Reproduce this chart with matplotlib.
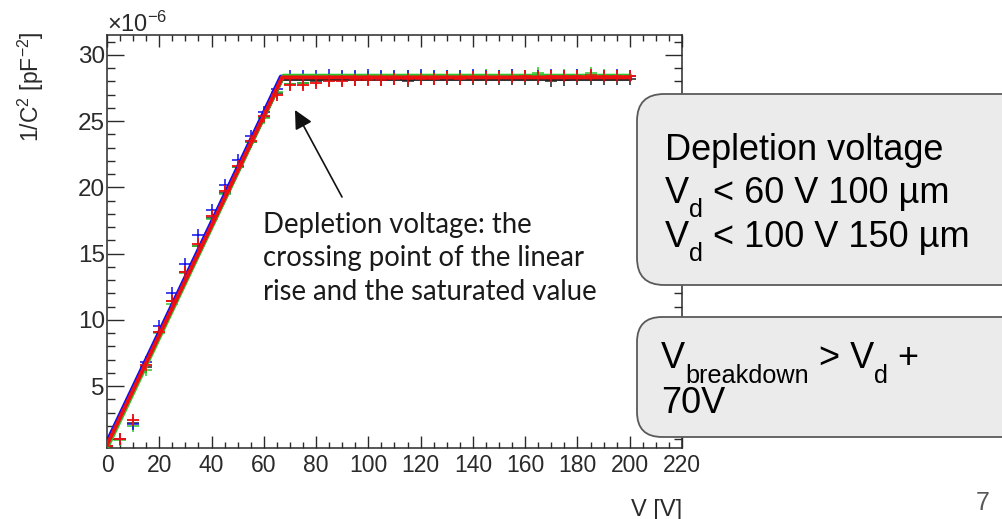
import matplotlib
matplotlib.use("Agg")
import matplotlib.pyplot as plt
from matplotlib.patches import FancyBboxPatch, FancyArrowPatch
from matplotlib.ticker import MultipleLocator

plt.rcParams['font.family'] = ['Liberation Sans', 'DejaVu Sans']
plt.rcParams['mathtext.fontset'] = 'custom'
plt.rcParams['mathtext.rm'] = 'Liberation Sans'
plt.rcParams['mathtext.it'] = 'Liberation Sans:italic'
plt.rcParams['mathtext.bf'] = 'Liberation Sans:bold'

# ---------------- data ----------------
voltage = [0, 5, 10, 15, 20, 25, 30, 35, 40, 45, 50, 55, 60, 65, 70,
           75, 80, 85, 90, 95, 100, 105, 110, 115, 120, 125, 130, 135, 140,
           145, 150, 155, 160, 165, 170, 175, 180, 185, 190, 195, 200]

inv_c2_blue = [0.5, 1.0, 2.1, 6.8, 9.5, 12.0, 14.2, 16.4, 18.3, 20.2, 22.1, 23.9, 25.7, 27.4, 28.4,
               28.4, 28.4, 28.5, 28.4, 28.4, 28.5, 28.4, 28.4, 28.4, 28.5, 28.4, 28.4, 28.4, 28.5,
               28.4, 28.4, 28.5, 28.4, 28.4, 28.5, 28.4, 28.5, 28.5, 28.4, 28.5, 28.4]
inv_c2_green = [0.4, 0.9, 2.0, 6.2, 9.0, 11.2, 13.5, 15.6, 17.6, 19.5, 21.5, 23.4, 25.2, 27.2, 27.8,
                27.9, 28.1, 28.2, 28.3, 28.3, 28.3, 28.3, 28.3, 28.4, 28.4, 28.3, 28.4, 28.4, 28.4,
                28.5, 28.4, 28.5, 28.4, 28.6, 28.4, 28.5, 28.5, 28.6, 28.5, 28.4, 28.4]
inv_c2_red = [0.5, 1.0, 2.4, 6.6, 9.1, 11.4, 13.6, 15.7, 17.8, 19.7, 21.6, 23.5, 25.4, 27.0, 27.7,
              27.7, 27.9, 28.0, 28.0, 28.1, 28.1, 28.1, 28.2, 28.2, 28.2, 28.2, 28.3, 28.2, 28.3,
              28.3, 28.3, 28.3, 28.4, 28.3, 28.4, 28.4, 28.4, 28.5, 28.4, 28.4, 28.4]
inv_c2_black = [0.5, 1.0, 2.2, 6.4, 9.1, 11.4, 13.6, 15.6, 17.7, 19.6, 21.5, 23.4, 25.3, 27.1, 27.8,
                27.9, 28.0, 28.1, 28.1, 28.1, 28.2, 28.1, 28.2, 28.0, 28.2, 28.2, 28.2, 28.2, 28.2,
                28.2, 28.2, 28.2, 28.2, 28.2, 28.0, 28.1, 28.2, 28.2, 28.2, 28.2, 28.2]

# fitted lines: (V, 1/C^2) at start, kink (depletion voltage) and end
fit_black_v = [0, 67.0, 200]; fit_black_y = [0.5, 28.18, 28.18]
fit_blue_v = [0, 66.5, 200];  fit_blue_y = [0.8, 28.36, 28.36]
fit_green_v = [0, 67.5, 200]; fit_green_y = [0.3, 28.43, 28.43]
fit_red_v = [0, 67.0, 200];   fit_red_y = [0.55, 28.3, 28.3]

x_ticks = [0, 20, 40, 60, 80, 100, 120, 140, 160, 180, 200, 220]
y_ticks = [5, 10, 15, 20, 25, 30]

# ---------------- figure ----------------
W, H = 1002, 519
fig = plt.figure(figsize=(W / 100, H / 100), dpi=100)
fig.patch.set_facecolor('white')

ax = fig.add_axes([107 / W, (H - 448) / H, 575 / W, 413 / H])
ax.set_xlim(0, 220)
ax.set_ylim(0.32, 31.5)

blue, green, red, black = '#1010ee', '#2ec42e', '#ee1010', '#222222'

mk = dict(marker='+', ls='none', ms=8, mew=1.1, zorder=2)
ax.plot(voltage, inv_c2_black, color=black, **mk)
ax.plot(voltage, inv_c2_green, color=green, **mk)
ax.plot(voltage, inv_c2_blue, color=blue, **mk)
ax.plot(voltage, inv_c2_red, color=red, **mk)

ax.plot(fit_black_v, fit_black_y, color=black, lw=2.8, zorder=3)
ax.plot(fit_blue_v, fit_blue_y, color=blue, lw=2.8, zorder=3)
ax.plot(fit_green_v, fit_green_y, color=green, lw=2.8, zorder=3)
ax.plot(fit_red_v, fit_red_y, color=red, lw=2.8, zorder=3)

# markers that sit away from the lines stay visible on top
ax.plot(voltage, inv_c2_red, color=red, alpha=0.85, **dict(mk, zorder=4))

tick_col = '#2a2a2a'
ax.set_xticks(x_ticks)
ax.set_yticks(y_ticks)
ax.xaxis.set_minor_locator(MultipleLocator(5))
ax.yaxis.set_minor_locator(MultipleLocator(1))
ax.tick_params(axis='x', which='major', direction='in', length=8.5, width=1,
               top=True, bottom=True, labelsize=16.5, pad=4, colors=tick_col)
ax.tick_params(axis='x', which='minor', direction='in', length=4.3, width=1,
               top=True, bottom=True, colors=tick_col)
ax.tick_params(axis='y', which='major', direction='in', length=12, width=1,
               left=True, right=True, labelsize=17.5, pad=1.5, colors=tick_col)
ax.tick_params(axis='y', which='minor', direction='in', length=5.5, width=1,
               left=True, right=True, colors=tick_col)
for s in ax.spines.values():
    s.set_color(tick_col)
    s.set_linewidth(1.1)

# axis titles and exponent
fig.text(31 / W, 1 - 31 / H, r'1/C$^{2}$ [pF$^{-2}$]', rotation=90,
         ha='center', va='top', fontsize=16.5, color=tick_col)
fig.text(682 / W, 1 - 516 / H, 'V [V]', ha='right', va='baseline',
         fontsize=17, color=tick_col)
fig.text(107 / W, 1 - 32 / H, r'$\times$10$^{-6}$', ha='left', va='baseline',
         fontsize=17, color=tick_col)

# ---------------- overlay (pixel coordinates) ----------------
ov = fig.add_axes([0, 0, 1, 1], zorder=5)
ov.set_xlim(0, W)
ov.set_ylim(H, 0)
ov.axis('off')
ov.patch.set_visible(False)

renderer = fig.canvas.get_renderer()


def rich_line(x, y, pieces, size, sub_scale=0.7, sub_drop=14, color='black'):
    """pieces: list of (text, is_subscript)"""
    for txt, is_sub in pieces:
        fs = size * sub_scale if is_sub else size
        yy = y + sub_drop if is_sub else y
        t = ov.text(x, yy, txt, ha='left', va='baseline', fontsize=fs, color=color)
        bb = t.get_window_extent(renderer=renderer)
        x += bb.width


# annotation text
note_font = ['Lato', 'DejaVu Sans']
for txt, yb in [('Depletion voltage: the', 233),
                ('crossing point of the linear', 266),
                ('rise and the saturated value', 300)]:
    ov.text(263, yb, txt, ha='left', va='baseline', fontsize=19.8,
            family=note_font, color='#1a1a1a')

ov.add_patch(FancyArrowPatch((342, 197), (295, 110),
                             arrowstyle='-|>,head_length=0.7,head_width=0.35',
                             mutation_scale=16, color='#111111', lw=1.2,
                             shrinkA=0, shrinkB=0))

# boxes
box_face, box_edge = '#ebebeb', '#5a5a5a'
ov.add_patch(FancyBboxPatch((637, 94), 420, 191,
                            boxstyle='round,pad=0,rounding_size=27',
                            fc=box_face, ec=box_edge, lw=1.3))
ov.add_patch(FancyBboxPatch((637, 317), 420, 120,
                            boxstyle='round,pad=0,rounding_size=25',
                            fc=box_face, ec=box_edge, lw=1.3))

bfs = 26
ov.text(665, 160, 'Depletion voltage', ha='left', va='baseline', fontsize=bfs, color='black')
rich_line(665, 203, [('V', False), ('d', True), (' < 60 V 100 µm', False)], bfs)
rich_line(665, 247, [('V', False), ('d', True), (' < 100 V 150 µm', False)], bfs)
rich_line(661, 368, [('V', False), ('breakdown', True), (' > V', False), ('d', True),
                     (' +', False)], bfs, sub_drop=15)
ov.text(661, 413, '70V', ha='left', va='baseline', fontsize=bfs, color='black')

# page number
ov.text(983, 510, '7', ha='center', va='baseline', fontsize=18, color='#595959')

fig.savefig('out.png', dpi=100)
